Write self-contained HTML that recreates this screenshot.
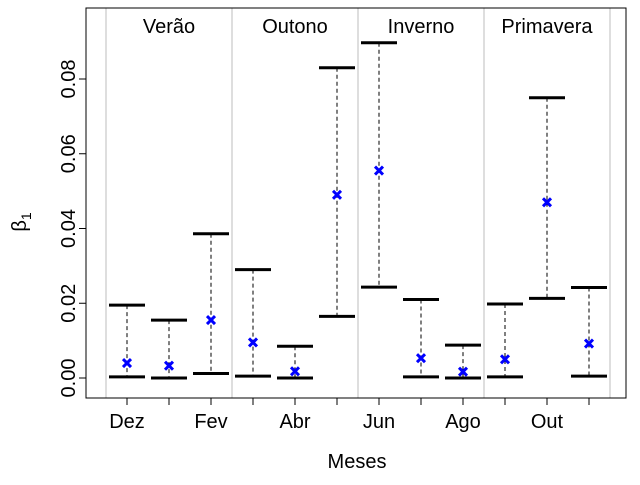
<!DOCTYPE html>
<html><head><meta charset="utf-8"><style>
body{margin:0;background:#fff}
svg text{font-family:"Liberation Sans",Arial,sans-serif;fill:#000}
</style></head><body>
<svg id="chart" width="640" height="480">
<g id="marks"></g>
</svg>
<script>
const months=["Dez","Jan","Fev","Mar","Abr","Mai","Jun","Jul","Ago","Set","Out","Nov"];
const upper=[0.0195,0.0155,0.0386,0.029,0.0085,0.083,0.0897,0.021,0.0088,0.0198,0.075,0.0242];
const lower=[0.0003,0.0,0.0012,0.0005,0.0,0.0165,0.0243,0.0003,0.0,0.0003,0.0213,0.0005];
const estimate=[0.004,0.0033,0.0155,0.0095,0.0018,0.049,0.0555,0.0053,0.0017,0.005,0.047,0.0092];
const yTicks=[0,0.02,0.04,0.06,0.08];
const yTickLabels=["0.00","0.02","0.04","0.06","0.08"];
const seasons=["Verão","Outono","Inverno","Primavera"];
const labeledMonths=["Dez","Fev","Abr","Jun","Ago","Out"];

const NS="http://www.w3.org/2000/svg";
const svg=document.getElementById('chart');
const L=86,R=626,T=8,B=398;
const x=i=>127+i*42;
const y=v=>378-v*3737.5;
function mk(tag,attrs,parent){const e=document.createElementNS(NS,tag);for(const k in attrs)e.setAttribute(k,attrs[k]);(parent||svg).appendChild(e);return e;}

// season dividers
for(let s=0;s<=4;s++){
  const xs=x(s*3)-21;
  const ln=mk('line',{x1:xs,x2:xs,y1:T,y2:B,stroke:'#bebebe','stroke-width':1});
  
  
}
seasons.forEach((s,i)=>{
  const t=mk('text',{x:x(i*3+1),y:33,'text-anchor':'middle','font-size':20});
  t.textContent=s;
  
  
});
// intervals
months.forEach((m,i)=>{
  const g=mk('g',{});
  
  
  mk('line',{x1:x(i),x2:x(i),y1:y(upper[i]),y2:y(lower[i]),stroke:'#000','stroke-dasharray':'4,3','stroke-width':1},g);
  mk('line',{x1:x(i)-18,x2:x(i)+18,y1:y(upper[i]),y2:y(upper[i]),stroke:'#000','stroke-width':3},g);
  mk('line',{x1:x(i)-18,x2:x(i)+18,y1:y(lower[i]),y2:y(lower[i]),stroke:'#000','stroke-width':3},g);
  const px=x(i),py=y(estimate[i]);
  const p=mk('path',{d:`M${px-4},${py-4}L${px+4},${py+4}M${px-4},${py+4}L${px+4},${py-4}`,stroke:'#0000ff','stroke-width':3,fill:'none'},g);
  
  
});
// box
const box=mk('rect',{x:L,y:T,width:R-L,height:B-T,fill:'none',stroke:'#000','stroke-width':1});


// y axis
yTicks.forEach((v,i)=>{
  mk('line',{x1:L,x2:L-7,y1:y(v),y2:y(v),stroke:'#000'});
  const t=mk('text',{x:75,y:y(v),'text-anchor':'middle','font-size':20,transform:`rotate(-90 75 ${y(v)})`});
  t.textContent=yTickLabels[i];
  
  
});
// x axis
months.forEach((m,i)=>{
  mk('line',{x1:x(i),x2:x(i),y1:B,y2:B+7,stroke:'#000'});
  if(labeledMonths.includes(m)){
    const t=mk('text',{x:x(i),y:428,'text-anchor':'middle','font-size':20});
    t.textContent=m;
    
    
  }
});
const xt=mk('text',{x:357,y:468,'text-anchor':'middle','font-size':20});
xt.textContent='Meses';


const yt=mk('text',{x:26,y:222,'text-anchor':'middle','font-size':20,transform:'rotate(-90 26 222)'});
yt.innerHTML='β<tspan font-size="14" dy="5">1</tspan>';


</script>
</body></html>
